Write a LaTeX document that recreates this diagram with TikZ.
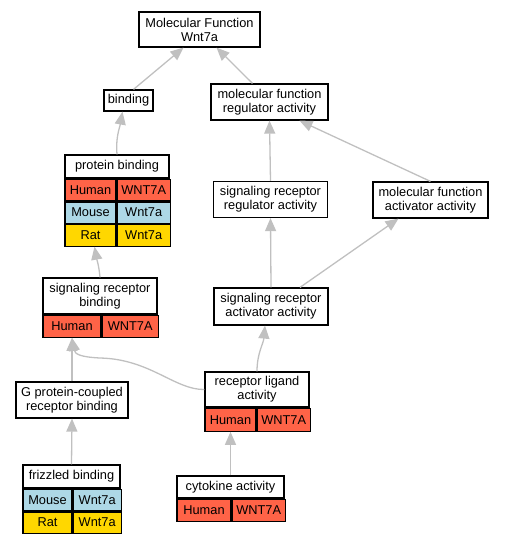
\documentclass[tikz,border=0pt]{standalone}
\usepackage{fontspec}
\setmainfont{Liberation Sans}
\usetikzlibrary{arrows.meta}
\definecolor{human}{HTML}{FF6347}
\definecolor{mouse}{HTML}{ADD8E6}
\definecolor{rat}{HTML}{FFD700}
\definecolor{edgegray}{HTML}{C0C0C0}
\tikzset{
  term/.style={draw, fill=white, line width=1.2pt, align=center, inner sep=0pt, font=\fontsize{12.8}{14}\selectfont},
  cell/.style={draw, line width=1.2pt, inner sep=0pt, minimum height=21.5, anchor=north west, font=\fontsize{12.8}{14}\selectfont},
  isa/.style={draw=edgegray, line width=1.3pt, -{Triangle[width=11,length=13]}}
}
\begin{document}
\begin{tikzpicture}[x=1pt,y=-1pt]
  \useasboundingbox (0,0) rectangle (504,541); %ramme
  % top
  \node[term, minimum width=121, minimum height=35] (mf) at (199.5,29.5) {Molecular Function\\Wnt7a};
  \node[term, minimum width=49, minimum height=21] (binding) at (128.5,100.5) {binding};
  \node[term, minimum width=117, minimum height=36] (mfra) at (269.5,102) {molecular function\\regulator activity};
  % protein binding
  \node[term, minimum width=104, minimum height=23] (pb) at (117,166.5) {protein binding};
  \node[cell, fill=human, minimum width=51] (pbhs) at (pb.south west) {Human};
  \node[cell, fill=human, minimum width=53] (pbhg) at (pbhs.north east) {WNT7A};
  \node[cell, fill=mouse, minimum width=51] (pbms) at (pbhs.south west) {Mouse};
  \node[cell, fill=mouse, minimum width=53] (pbmg) at (pbms.north east) {Wnt7a};
  \node[cell, fill=rat, minimum width=51] (pbrs) at (pbms.south west) {Rat};
  \node[cell, fill=rat, minimum width=53] (pbrg) at (pbrs.north east) {Wnt7a};
  % regulator / activator
  \node[term, minimum width=114, minimum height=36] (srra) at (270.5,199.5) {signaling receptor\\regulator activity};
  \node[term, minimum width=115, minimum height=36] (mfaa) at (430.5,200) {molecular function\\activator activity};
  \node[term, minimum width=114, minimum height=37] (sraa) at (271,306.5) {signaling receptor\\activator activity};
  % signaling receptor binding
  \node[term, minimum width=114, minimum height=36] (srb) at (100,296) {signaling receptor\\binding};
  \node[cell, fill=human, minimum width=58, minimum height=22] (srbhs) at (srb.south west) {Human};
  \node[cell, fill=human, minimum width=56, minimum height=22] (srbhg) at (srbhs.north east) {WNT7A};
  \node[term, minimum width=112, minimum height=36] (gpcr) at (72,400) {G protein-coupled\\receptor binding};
  % receptor ligand activity
  \node[term, minimum width=104, minimum height=35] (rla) at (257,389.5) {receptor ligand\\activity};
  \node[cell, fill=human, minimum width=51, minimum height=23] (rlahs) at (rla.south west) {Human};
  \node[cell, fill=human, minimum width=53, minimum height=23] (rlahg) at (rlahs.north east) {WNT7A};
  % frizzled binding
  \node[term, minimum width=97, minimum height=23] (fz) at (71.5,476.5) {frizzled binding};
  \node[cell, fill=mouse, minimum width=49] (fzms) at (fz.south west) {Mouse};
  \node[cell, fill=mouse, minimum width=48] (fzmg) at (fzms.north east) {Wnt7a};
  \node[cell, fill=rat, minimum width=49] (fzrs) at (fzms.south west) {Rat};
  \node[cell, fill=rat, minimum width=48] (fzrg) at (fzrs.north east) {Wnt7a};
  % cytokine activity
  \node[term, minimum width=107, minimum height=22] (cyto) at (230.5,487) {cytokine activity};
  \node[cell, fill=human, minimum width=54, minimum height=22] (cytohs) at (cyto.south west) {Human};
  \node[cell, fill=human, minimum width=53, minimum height=22] (cytohg) at (cytohs.north east) {WNT7A};
  % is_a kanter
  \draw[isa] ([xshift=5]binding.north) -- ([xshift=-16]mf.south);
  \draw[isa] ([xshift=-17]mfra.north) -- ([xshift=17]mf.south);
  \draw[isa] (pb.north) to[out=95,in=-100] ([xshift=-6]binding.south);
  \draw[isa] (srra.north) -- (mfra.south);
  \draw[isa] (mfaa.north) -- ([xshift=30]mfra.south);
  \draw[isa] (sraa.north) -- (srra.south);
  \draw[isa] ([xshift=29]sraa.north) -- ([xshift=-32]mfaa.south);
  \draw[isa] (srb.north) to[out=95,in=-80] ([xshift=4]pbrs.south);
  \draw[isa] (gpcr.north) -- (srbhs.south);
  \draw[isa] (rla.west) .. controls (175,390) and (150,359) .. (100,358) .. controls (80,357) and (75,354) .. (srbhs.south);
  \draw[isa] (rla.north) to[out=90,in=-95] ([xshift=-6]sraa.south);
  \draw[isa] (fz.north) -- (gpcr.south);
  \draw[isa] (cyto.north) -- (rlahs.south);
\end{tikzpicture}
\end{document}
